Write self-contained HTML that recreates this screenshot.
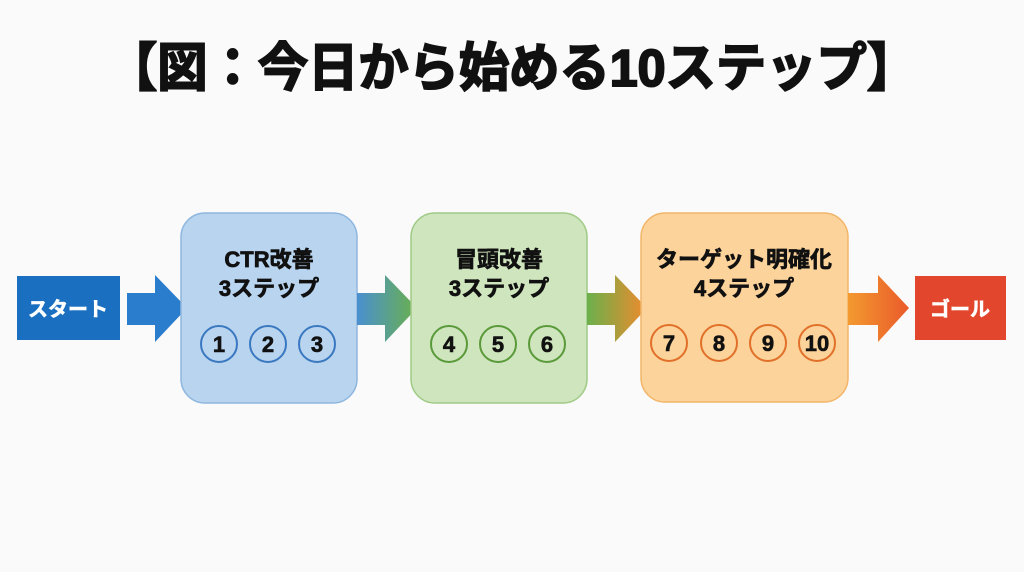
<!DOCTYPE html>
<html><head><meta charset="utf-8"><style>
html,body{margin:0;padding:0;background:#fafafa;}
svg{display:block}
text{font-family:"Liberation Sans","Noto Sans CJK JP",sans-serif;font-weight:bold;}
</style></head><body>
<svg width="1024" height="572" viewBox="0 0 1024 572" xmlns="http://www.w3.org/2000/svg">
<defs>
<linearGradient id="g1" x1="0" x2="1"><stop offset="0" stop-color="#4a90d0"/><stop offset="1" stop-color="#6ab04c"/></linearGradient>
<linearGradient id="g2" x1="0" x2="1"><stop offset="0" stop-color="#6ab04c"/><stop offset="1" stop-color="#f08a2c"/></linearGradient>
<linearGradient id="g3" x1="0" x2="1"><stop offset="0" stop-color="#f39a30"/><stop offset="1" stop-color="#ea5a2a"/></linearGradient>
</defs>
<rect width="1024" height="572" fill="#fafafa"/>
<text x="512" y="86" font-size="52" text-anchor="middle" fill="#111" stroke="#111" stroke-width="2" textLength="810" lengthAdjust="spacingAndGlyphs">【図：今日から始める10ステップ】</text>

<rect x="17" y="276" width="103" height="64" fill="#1b6fc0"/>
<text x="68" y="316" font-size="20" fill="#fff" stroke="#fff" stroke-width="0.6" text-anchor="middle">スタート</text>
<polygon points="127,293 155,293 155,275 187,308 155,342 155,325 127,325" fill="#2a7ccc"/>

<rect x="181" y="213" width="176" height="190" rx="24" fill="#b8d4ef" stroke="#8fb6de" stroke-width="1.5"/>
<g fill="#111" stroke="#111" stroke-width="0.7" text-anchor="middle" font-size="22">
<text x="269" y="267">CTR改善</text>
<text x="269" y="296">3ステップ</text>
</g>
<g fill="none" stroke="#3a78c0" stroke-width="2"><circle cx="219" cy="344" r="18"/><circle cx="268" cy="344" r="18"/><circle cx="317" cy="344" r="18"/></g>
<g font-size="22" fill="#111" stroke="#111" stroke-width="0.6" text-anchor="middle"><text x="219" y="352">1</text><text x="268" y="352">2</text><text x="317" y="352">3</text></g>

<polygon points="357,293 385,293 385,275 417,308 385,342 385,325 357,325" fill="url(#g1)"/>

<rect x="411" y="213" width="176" height="190" rx="24" fill="#cfe5bd" stroke="#9fca86" stroke-width="1.5"/>
<g fill="#111" stroke="#111" stroke-width="0.7" text-anchor="middle" font-size="22">
<text x="499" y="267">冒頭改善</text>
<text x="499" y="296">3ステップ</text>
</g>
<g fill="none" stroke="#5a9a3a" stroke-width="2"><circle cx="449" cy="344" r="18"/><circle cx="498" cy="344" r="18"/><circle cx="547" cy="344" r="18"/></g>
<g font-size="22" fill="#111" stroke="#111" stroke-width="0.6" text-anchor="middle"><text x="449" y="352">4</text><text x="498" y="352">5</text><text x="547" y="352">6</text></g>

<polygon points="587,293 615,293 615,275 647,308 615,342 615,325 587,325" fill="url(#g2)"/>

<rect x="641" y="213" width="207" height="189" rx="24" fill="#fcd39a" stroke="#f2b66a" stroke-width="1.5"/>
<g fill="#111" stroke="#111" stroke-width="0.7" text-anchor="middle" font-size="22">
<text x="744" y="267">ターゲット明確化</text>
<text x="744" y="296">4ステップ</text>
</g>
<g fill="none" stroke="#e0702a" stroke-width="2"><circle cx="669" cy="343" r="18"/><circle cx="719" cy="343" r="18"/><circle cx="768" cy="343" r="18"/><circle cx="817" cy="343" r="18"/></g>
<g font-size="22" fill="#111" stroke="#111" stroke-width="0.6" text-anchor="middle"><text x="669" y="351">7</text><text x="719" y="351">8</text><text x="768" y="351">9</text><text x="817" y="351">10</text></g>

<polygon points="848,293 878,293 878,275 909,308 878,342 878,325 848,325" fill="url(#g3)"/>

<rect x="915" y="276" width="91" height="64" fill="#e2462c"/>
<text x="960" y="316" font-size="20" fill="#fff" stroke="#fff" stroke-width="0.6" text-anchor="middle">ゴール</text>
</svg>
</body></html>
